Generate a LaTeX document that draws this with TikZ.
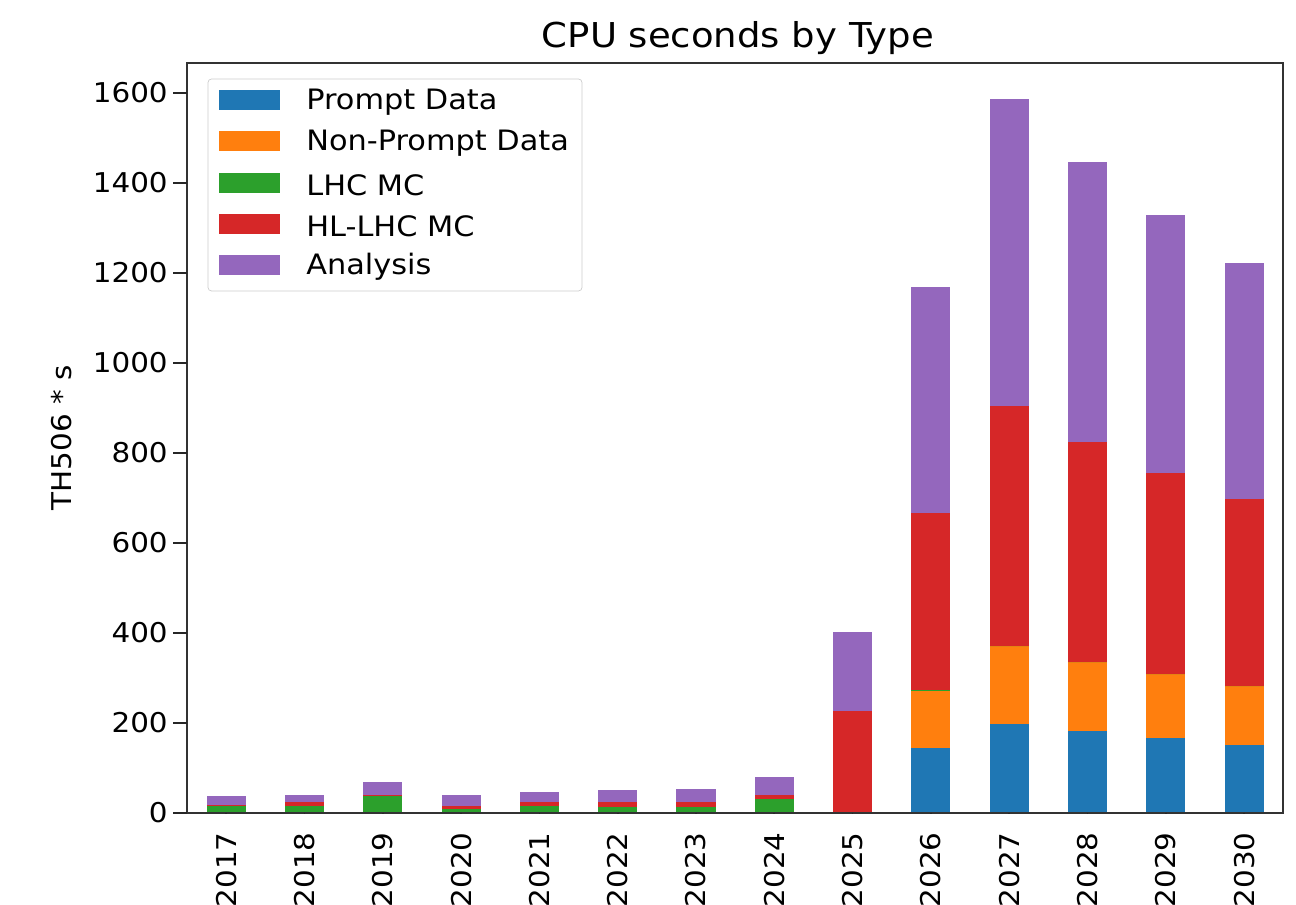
\documentclass[tikz,border=0pt]{standalone}
\usepackage{fontspec}
\setmainfont[FakeStretch=1.08]{DejaVu Sans}
\definecolor{cPrompt}{HTML}{1F77B4}
\definecolor{cNonPrompt}{HTML}{FF7F0E}
\definecolor{cLHC}{HTML}{2CA02C}
\definecolor{cHLLHC}{HTML}{D62728}
\definecolor{cAnalysis}{HTML}{9467BD}
\tikzset{
  ticklabel/.style={font=\fontsize{15.5}{18}\selectfont, inner sep=0pt},
  legendtext/.style={font=\fontsize{16}{19}\selectfont, anchor=west, inner sep=0pt},
  legendpatch/.style={minimum width=1.22cm, minimum height=0.4cm, inner sep=0pt},
  spine/.style={line width=1.4pt, black!80},
  tickmark/.style={line width=1pt, black!85}
}
\begin{document}
\begin{tikzpicture}[line join=miter]
  \useasboundingbox (0,0) rectangle (25.92,18.10);

  % title and y label
  \node[font=\fontsize{19.5}{23}\selectfont, anchor=base] (title) at (14.76,17.14) {CPU seconds by Type};
  \node[ticklabel, rotate=90] (ylab) at (1.24,9.34) {TH506 * s};

  \begin{scope}[shift={(4.524,1.84)}, x=1.566cm, y=0.009cm]
    % stacked bars: cumulative tops of each part
    \foreach \i/\a/\b/\c/\d/\e in {
        0/0/0/16/18/38, 1/0/0/16/25/40, 2/0/0/37/40/69, 3/0/0/8/16/40,
        4/0/0/16/24/46, 5/0/0/14/25/51, 6/0/0/14/25/54, 7/0/0/31/41/80,
        8/0/0/0/227/402, 9/144/271/273/667/1169, 10/198/370/370/904/1587,
        11/182/335/335/825/1447, 12/167/308/308/756/1329, 13/151/283/283/698/1222}{
      \fill[cPrompt] (\i-0.25,0) rectangle (\i+0.25,\a);
      \fill[cNonPrompt] (\i-0.25,\a) rectangle (\i+0.25,\b);
      \fill[cLHC] (\i-0.25,\b) rectangle (\i+0.25,\c);
      \fill[cHLLHC] (\i-0.25,\c) rectangle (\i+0.25,\d);
      \fill[cAnalysis] (\i-0.25,\d) rectangle (\i+0.25,\e);
    }

    % frame
    \draw[spine] (-0.5,0) rectangle (13.5,1666.7);

    % y ticks
    \foreach \v in {0,200,...,1600}{
      \draw[tickmark] (-0.5,\v) -- ++(-0.18,0);
      \node[ticklabel, anchor=east] (yl\v) at ([xshift=-0.38cm]-0.5,\v) {\v};
    }

    % x ticks
    \foreach \i [evaluate=\i as \yr using int(2017+\i)] in {0,...,13}{
      \draw[tickmark] (\i,0) -- ++(0,-0.18);
      \node[ticklabel, rotate=90, anchor=east] (xl\i) at ([yshift=-0.38cm]\i,0) {\yr};
    }
  \end{scope}

  % legend
  \draw[black!20, fill=white, rounded corners=2pt] (4.16,12.28) rectangle (11.64,16.52);
  \foreach \n/\c/\t/\y in {1/cPrompt/Prompt Data/16.10, 2/cNonPrompt/Non-Prompt Data/15.28,
      3/cLHC/LHC MC/14.44, 4/cHLLHC/HL-LHC MC/13.62, 5/cAnalysis/Analysis/12.80}{
    \node[legendpatch, fill=\c] (patch\n) at (4.99,\y) {};
    \node[legendtext] (leg\n) at (6.12,\y-0.04) {\t};
  }
\end{tikzpicture}
\end{document}
